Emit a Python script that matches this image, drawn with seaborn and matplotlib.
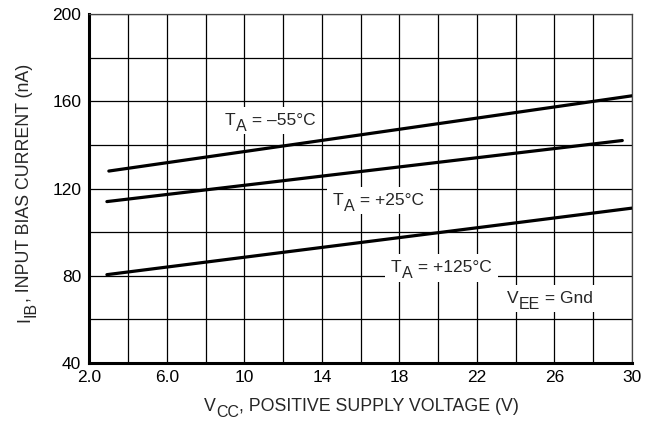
import pandas as pd
import seaborn as sns
import matplotlib.pyplot as plt
from matplotlib.ticker import MultipleLocator

# Input bias current vs. positive supply voltage
vcc_55 = [3.0, 30.0]
ib_55 = [128, 162.5]
vcc_25 = [2.9, 29.5]
ib_25 = [114, 142]
vcc_125 = [2.9, 30.0]
ib_125 = [80.5, 111]

x_ticks = [2.0, 6.0, 10, 14, 18, 22, 26, 30]
x_tick_labels = ['2.0', '6.0', '10', '14', '18', '22', '26', '30']
y_ticks = [40, 80, 120, 160, 200]

df = pd.concat([
    pd.DataFrame({'Vcc': vcc_55, 'Ib': ib_55, 'Temp': '-55'}),
    pd.DataFrame({'Vcc': vcc_25, 'Ib': ib_25, 'Temp': '+25'}),
    pd.DataFrame({'Vcc': vcc_125, 'Ib': ib_125, 'Temp': '+125'}),
])

sns.set_style('white')
plt.rcParams['font.family'] = ['Liberation Sans', 'DejaVu Sans']

fig = plt.figure(figsize=(6.53, 4.21), dpi=100)
ax = fig.add_axes([0.137, 0.1378, 0.8308, 0.8289])

sns.lineplot(data=df, x='Vcc', y='Ib', units='Temp', estimator=None,
             color='black', linewidth=2.3, ax=ax, zorder=4)

ax.set_xlim(2.0, 30)
ax.set_ylim(40, 200)
ax.set_xticks(x_ticks)
ax.set_xticklabels(x_tick_labels)
ax.set_yticks(y_ticks)
ax.xaxis.set_minor_locator(MultipleLocator(2))
ax.yaxis.set_minor_locator(MultipleLocator(20))
ax.grid(True, which='both', color='black', linewidth=0.9)
ax.tick_params(which='both', length=0, labelsize=12.5, colors='black')
ax.tick_params(axis='y', pad=6)
ax.tick_params(axis='x', pad=5)
ax.set_xlabel('')
ax.set_ylabel('')

for side in ['left', 'bottom']:
    ax.spines[side].set_linewidth(2.2)
    ax.spines[side].set_color('black')
for side in ['top', 'right']:
    ax.spines[side].set_linewidth(0.9)
    ax.spines[side].set_color('#444444')


def sub_text(main, sub, rest, x, y, size=12.5, sub_size=11.5, drop=4, box=None,
             transform=None, rotation=0):
    # main text, then a big lowered subscript, then the rest of the label
    if transform is None:
        transform = ax.transData
    if rotation == 0:
        t1 = ax.text(x, y, main, fontsize=size, ha='left', va='baseline',
                     transform=transform, bbox=box, zorder=3)
        sbox = dict(box, pad=0.3) if box else None
        t2 = ax.annotate(sub, xy=(1, 0), xycoords=t1, xytext=(0.3, -drop),
                         textcoords='offset points', fontsize=sub_size,
                         va='bottom', ha='left', bbox=sbox, zorder=3.2)
        ax.annotate(rest, xy=(1, 0), xycoords=t2, xytext=(0, drop),
                    textcoords='offset points', fontsize=size,
                    va='bottom', ha='left', bbox=box, zorder=3.1)
    else:
        t1 = ax.text(x, y, main, fontsize=size, ha='right', va='bottom',
                     rotation=90, transform=transform)
        t2 = ax.annotate(sub, xy=(1, 1), xycoords=t1, xytext=(drop, 0.3),
                         textcoords='offset points', fontsize=sub_size,
                         rotation=90, ha='right', va='bottom')
        ax.annotate(rest, xy=(1, 1), xycoords=t2, xytext=(-drop, 0),
                    textcoords='offset points', fontsize=size,
                    rotation=90, ha='right', va='bottom')


# axis titles
sub_text('V', 'CC', ', POSITIVE SUPPLY VOLTAGE (V)', 0.3124, 0.024,
         size=12.8, drop=3.5, transform=fig.transFigure)
sub_text('I', 'IB', ', INPUT BIAS CURRENT (nA)', 0.0505, 0.235,
         size=12.8, transform=fig.transFigure, rotation=90)

# curve labels (white boxes break the grid behind them)
box = dict(facecolor='white', edgecolor='none', pad=4.5)
sub_text('T', 'A', ' = –55°C', 9.0, 149.1, box=box)
sub_text('T', 'A', ' = +25°C', 14.57, 112.4, box=box)
sub_text('T', 'A', ' = +125°C', 17.56, 81.6, box=box)
sub_text('V', 'EE', ' = Gnd', 23.55, 67.4, box=box)

plt.savefig('out.png', dpi=100)
